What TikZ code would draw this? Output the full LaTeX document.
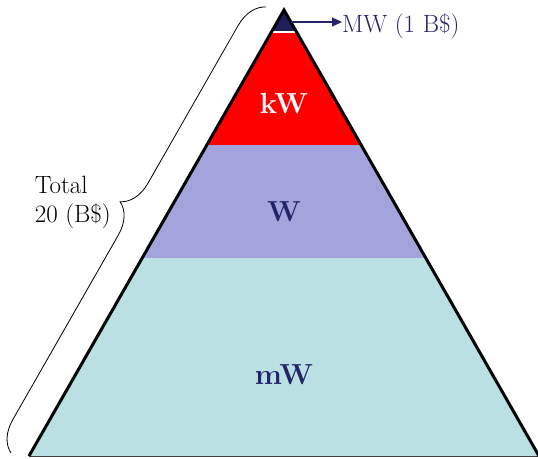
\documentclass[tikz,border=0pt]{standalone}
\usepackage{tikz}
\usetikzlibrary{arrows.meta,positioning,decorations.pathreplacing}
\definecolor{navy}{HTML}{24246A}
\definecolor{tipnavy}{HTML}{1F1F5A}
\definecolor{lavender}{HTML}{A4A4DC}
\definecolor{paleaqua}{HTML}{BAE0E3}

\tikzset{
    band/.style={draw=none},
    bandlabel/.style={font=\fontsize{29}{34}\selectfont\bfseries},
    plainlabel/.style={font=\fontsize{25}{29}\selectfont, text=black, inner sep=0pt}
}

\begin{document}
\begin{tikzpicture}[x=1pt,y=-1pt]
        \useasboundingbox (0,0) rectangle (538,458);
        % pyramid corners
        \coordinate (apex) at (284,10);
        \coordinate (left) at (29,456);
        \coordinate (right) at (539,456);
        % bands, top to bottom
        \fill[tipnavy] (apex) -- (296.6,32) -- (271.4,32) -- cycle;
        \fill[red] (271.4,32) -- (296.6,32) -- (361.2,145) -- (206.8,145) -- cycle;
        \fill[lavender] (206.8,145) -- (361.2,145) -- (425.8,258) -- (142.2,258) -- cycle;
        \fill[paleaqua] (142.2,258) -- (425.8,258) -- (right) -- (left) -- cycle;
        \draw[white, line width=1.2pt] (271.4,32) -- (296.6,32);
        % outline
        \draw[black!75, line width=0.8pt] (left) -- (right);
        \draw[black, line width=3pt, line join=miter] (left) -- (apex) -- (right);
        % band labels
        \node[bandlabel, text=white] (kw) at (284,104) {kW};
        \node[bandlabel, text=navy] (w) at (284,212) {W};
        \node[bandlabel, text=navy] (mw) at (284,375) {mW};
        % the top one
        \coordinate (tip) at (291,22);
        \node[plainlabel, text=navy, anchor=west] (mwlabel) at (342,26) {MW (1 B\$)};
        \draw[navy, line width=1.2pt, -{Triangle[length=10pt,width=9pt]}] (tip) -- (mwlabel.west |- tip);
        % total brace
        \coordinate (bracelow) at (11,453);
        \coordinate (bracehigh) at (266,7);
        \draw[black, line width=0.8pt, decorate,
              decoration={brace, amplitude=30pt, aspect=0.53}] (bracelow) -- (bracehigh);
        \node[plainlabel, align=left, anchor=east] (total) at (111,202) {Total\\20 (B\$)};
    \end{tikzpicture}
\end{document}
